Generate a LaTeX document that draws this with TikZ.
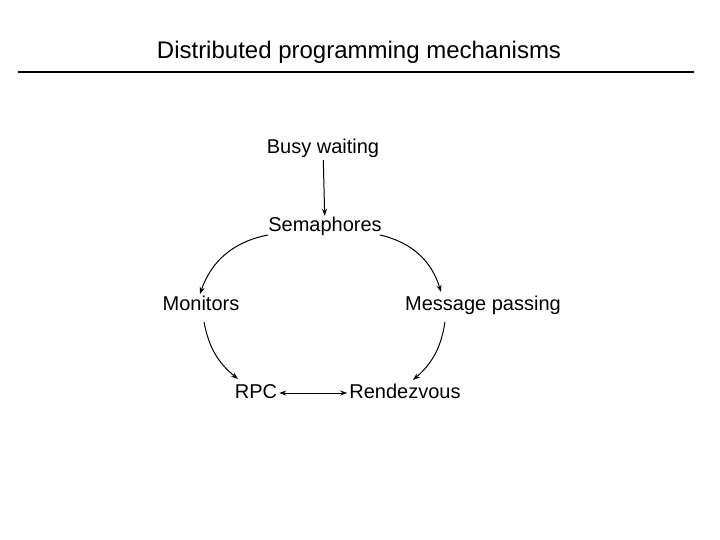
\documentclass[tikz,border=0pt]{standalone}
\usepackage{fontspec}
\setmainfont{Liberation Sans}
\usetikzlibrary{arrows.meta}
\begin{document}
\begin{tikzpicture}[x=1pt,y=-1pt,
  lbl/.style={font=\fontsize{20}{22}\selectfont, inner sep=2pt, text height=14pt, text depth=4pt},
  arr/.style={-{Stealth[length=7pt,width=5pt]}, line width=1pt}]
\useasboundingbox (0,0) rectangle (720,540);
\node[font=\fontsize{24}{26}\selectfont, text height=17pt, text depth=5pt] (title) at (359,53) {Distributed programming mechanisms};
\draw[line width=2.5pt] (18,72) -- (694,72);
\node[lbl] (busy) at (323,149) {Busy waiting};
\node[lbl] (sem) at (325,227) {Semaphores};
\node[lbl] (mon) at (201,305) {Monitors};
\node[lbl] (mp) at (483,305) {Message passing};
\node[lbl] (rpc) at (256,393) {RPC};
\node[lbl] (ren) at (405,393) {Rendezvous};
\coordinate (s1) at (268,235); \coordinate (m1) at (200,294);
\coordinate (s2) at (380,235); \coordinate (p1) at (441,292);
\coordinate (m2) at (204,322); \coordinate (r1) at (238,379);
\coordinate (p2) at (445,322); \coordinate (z1) at (413,380);
\draw[arr] (busy) -- (sem);
\draw[arr] (s1) to[bend right=30] (m1);
\draw[arr] (s2) to[bend left=30] (p1);
\draw[arr] (m2) to[bend right=20] (r1);
\draw[arr] (p2) to[bend left=20] (z1);
\draw[arr,{Stealth[length=7pt,width=5pt]}-{Stealth[length=7pt,width=5pt]}] (rpc) -- (ren);
\end{tikzpicture}
\end{document}
